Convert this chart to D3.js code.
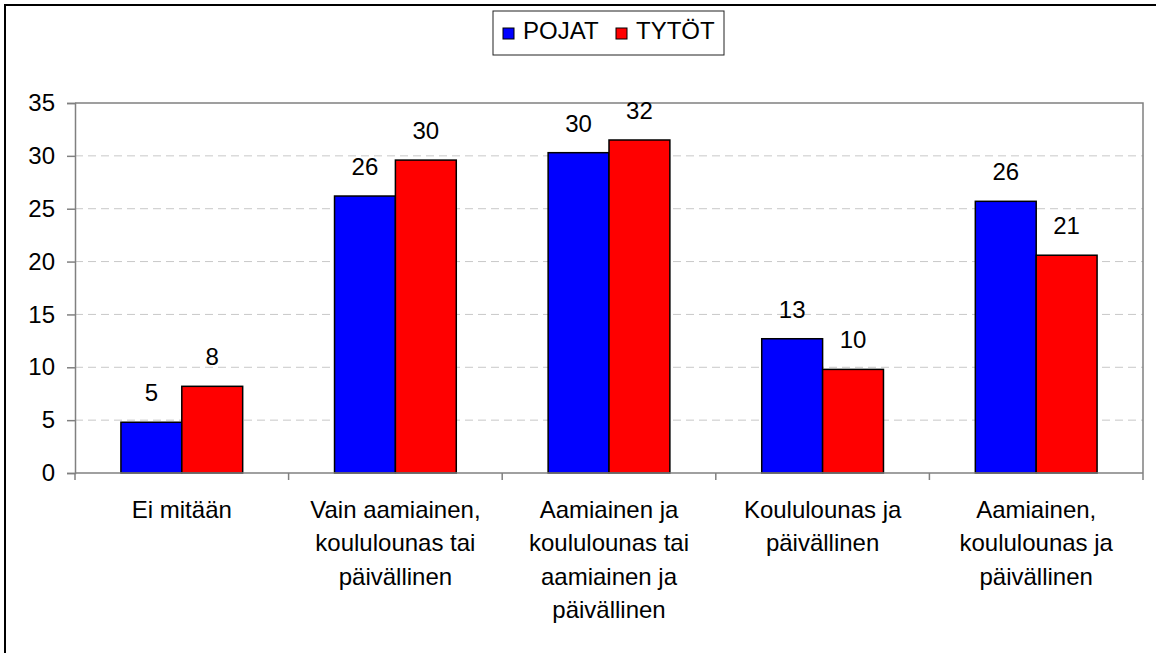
<!DOCTYPE html>
<html>
<head>
<meta charset="utf-8">
<script src="https://cdn.jsdelivr.net/npm/d3@7"></script>
<style>
  body { margin: 0; background: #fff; }
  svg { display: block; font-family: "Liberation Sans", Arial, sans-serif; }
</style>
</head>
<body>
<script>
const categories = [
  ["Ei mitään"],
  ["Vain aamiainen,", "koululounas tai", "päivällinen"],
  ["Aamiainen ja", "koululounas tai", "aamiainen ja", "päivällinen"],
  ["Koululounas ja", "päivällinen"],
  ["Aamiainen,", "koululounas ja", "päivällinen"]
];
const seriesNames = ["POJAT", "TYTÖT"];
const pojat = [4.8, 26.2, 30.3, 12.7, 25.7];
const tytot = [8.2, 29.6, 31.5, 9.8, 20.6];
const yTicks = [0, 5, 10, 15, 20, 25, 30, 35];
const colors = ["#0000ff", "#ff0000"];

const width = 1156;
const height = 653;
const plotLeft = 75, plotRight = 1143, plotTop = 103, plotBottom = 473;
const fontSize = 24;

const svg = d3.select("body").append("svg").attr("width", width).attr("height", height);

// outer frame (runs off the right and bottom edge like the original)
svg.append("rect")
  .attr("x", 5).attr("y", 5).attr("width", 1200).attr("height", 700)
  .attr("fill", "none").attr("stroke", "#000").attr("stroke-width", 2);

const idx = categories.map((d, i) => i);
const x0 = d3.scaleBand().domain(idx).range([plotLeft, plotRight]).paddingInner(0.43).paddingOuter(0.215);
const x1 = d3.scaleBand().domain(seriesNames).range([0, x0.bandwidth()]);
const y = d3.scaleLinear().domain([0, 35]).range([plotBottom, plotTop]);

// dashed grid
svg.append("g").selectAll("line")
  .data(yTicks.filter(t => t > 0 && t < 35))
  .enter().append("line")
  .attr("x1", plotLeft).attr("x2", plotRight)
  .attr("y1", d => y(d)).attr("y2", d => y(d))
  .attr("stroke", "#c8c8c8").attr("stroke-dasharray", "8,5");

// plot frame top + right
svg.append("path")
  .attr("d", `M${plotLeft},${y(35)}H${plotRight}V${y(0)}`)
  .attr("fill", "none").attr("stroke", "#808080").attr("stroke-width", 1.5);

// bars
const data = idx.map(i => [pojat[i], tytot[i]]);
const groups = svg.append("g").selectAll("g")
  .data(data).enter().append("g")
  .attr("transform", (d, i) => `translate(${x0(i)},0)`);

groups.selectAll("rect")
  .data(d => d.map((v, j) => ({ name: seriesNames[j], v: v, j: j })))
  .enter().append("rect")
  .attr("x", d => x1(d.name))
  .attr("width", x1.bandwidth())
  .attr("y", d => y(d.v))
  .attr("height", d => y(0) - y(d.v))
  .attr("fill", d => colors[d.j])
  .attr("stroke", "#000").attr("stroke-width", 1.5);

groups.selectAll("text")
  .data(d => d.map((v, j) => ({ name: seriesNames[j], v: v })))
  .enter().append("text")
  .attr("x", d => x1(d.name) + x1.bandwidth() / 2)
  .attr("y", d => y(d.v) - 21)
  .attr("text-anchor", "middle")
  .attr("font-size", fontSize)
  .text(d => d3.format(".0f")(d.v));

// y axis
const yAxis = svg.append("g")
  .attr("transform", `translate(${plotLeft},0)`)
  .call(d3.axisLeft(y).tickValues(yTicks).tickSize(8).tickPadding(12));
yAxis.select(".domain").attr("stroke", "#808080").attr("stroke-width", 1.5);
yAxis.selectAll(".tick line").attr("stroke", "#808080").attr("stroke-width", 1.5);
yAxis.selectAll(".tick text").attr("font-size", fontSize).attr("fill", "#000")
  .attr("font-family", "Liberation Sans, Arial, sans-serif");

// x axis with ticks between categories
const step = x0.step();
const bounds = idx.map(i => x0(i) - step * x0.paddingInner() / 2).concat([plotRight]);
svg.append("line")
  .attr("x1", plotLeft).attr("x2", plotRight).attr("y1", y(0)).attr("y2", y(0))
  .attr("stroke", "#808080").attr("stroke-width", 1.5);
svg.append("g").selectAll("line")
  .data(bounds).enter().append("line")
  .attr("x1", d => d).attr("x2", d => d)
  .attr("y1", y(0)).attr("y2", y(0) + 7)
  .attr("stroke", "#808080").attr("stroke-width", 1.5);

const catLabels = svg.append("g").selectAll("text")
  .data(categories).enter().append("text")
  .attr("text-anchor", "middle")
  .attr("font-size", fontSize)
  .attr("transform", (d, i) => `translate(${x0(i) + x0.bandwidth() / 2},${y(0) + 45})`);
catLabels.selectAll("tspan")
  .data(d => d).enter().append("tspan")
  .attr("x", 0).attr("y", (d, k) => k * 33.3)
  .text(d => d);

// legend
const legend = svg.append("g");
legend.append("rect")
  .attr("x", 493).attr("y", 11).attr("width", 231).attr("height", 44)
  .attr("fill", "#fff").attr("stroke", "#222").attr("stroke-width", 1);
const items = [{ name: seriesNames[0], x: 503 }, { name: seriesNames[1], x: 616 }];
items.forEach((it, j) => {
  legend.append("rect")
    .attr("x", it.x).attr("y", 28).attr("width", 11).attr("height", 11)
    .attr("fill", colors[j]).attr("stroke", "#000").attr("stroke-width", 1);
  legend.append("text")
    .attr("x", it.x + 20).attr("y", 39)
    .attr("font-size", fontSize)
    .text(it.name);
});
</script>
</body>
</html>
